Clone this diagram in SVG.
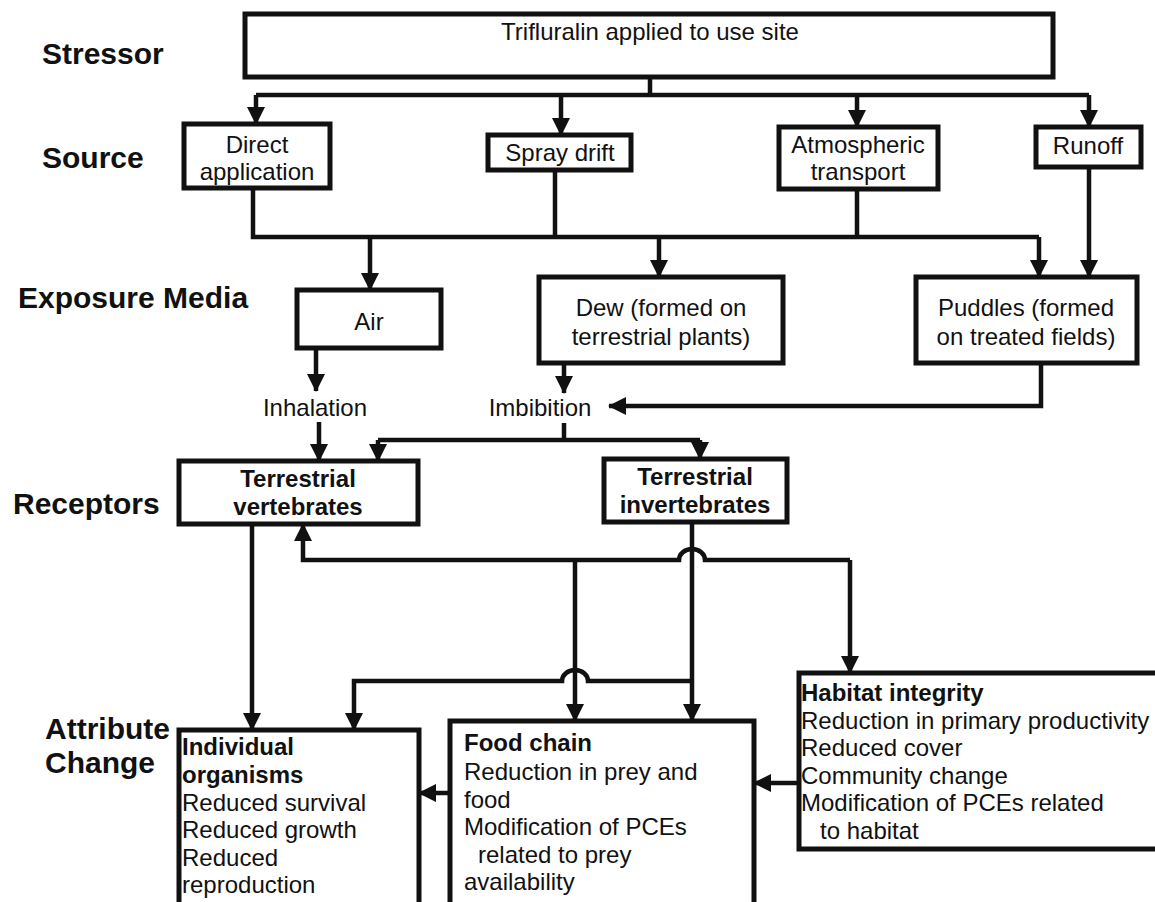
<svg xmlns="http://www.w3.org/2000/svg" width="1155" height="902" viewBox="0 0 1155 902">
<style>
.bg{fill:#fff}
.box{fill:#fff;stroke:#111;stroke-width:5}
.ln{fill:none;stroke:#111;stroke-width:4.5}
.arr{marker-end:url(#ah)}
.t{font-family:"Liberation Sans",Arial,sans-serif;font-size:24px;fill:#111}
.c{text-anchor:middle}
.b{font-weight:bold}
.lab{font-family:"Liberation Sans",Arial,sans-serif;font-size:30px;font-weight:bold;fill:#111}
</style>
<defs>
<marker id="ah" markerUnits="userSpaceOnUse" markerWidth="18" markerHeight="18" refX="17" refY="9" orient="auto">
<path d="M0,0 L18,9 L0,18 z" fill="#111"/>
</marker>
</defs>
<rect class="bg" x="0" y="0" width="1155" height="902"/>

<g id="labels">
<text class="lab" x="42" y="64">Stressor</text>
<text class="lab" x="42" y="168">Source</text>
<text class="lab" x="18" y="308">Exposure Media</text>
<text class="lab" x="13" y="514">Receptors</text>
<text class="lab" x="45" y="739">Attribute</text>
<text class="lab" x="45" y="773">Change</text>
</g>

<g id="connectors">
<path class="ln" d="M650,77 V95"/>
<path class="ln" d="M256,95 H1089"/>
<path class="ln arr" d="M256,95 V124"/>
<path class="ln arr" d="M561,95 V135"/>
<path class="ln arr" d="M857,95 V127"/>
<path class="ln arr" d="M1089,95 V127"/>
<path class="ln" d="M253,188 V237 H1039"/>
<path class="ln" d="M555,170 V237"/>
<path class="ln" d="M857,189 V237"/>
<path class="ln arr" d="M370,237 V290"/>
<path class="ln arr" d="M659,237 V277"/>
<path class="ln arr" d="M1039,237 V277"/>
<path class="ln arr" d="M1089,167 V277"/>
<path class="ln arr" d="M316,348 V391"/>
<path class="ln arr" d="M564,363 V393"/>
<path class="ln arr" d="M1041,363 V406 H609"/>
<path class="ln arr" d="M319,422 V461"/>
<path class="ln" d="M564,423 V440"/>
<path class="ln" d="M378,440 H700"/>
<path class="ln arr" d="M378,440 V461"/>
<path class="ln arr" d="M700,440 V459"/>
<path class="ln arr" d="M252,524 V730"/>
<path class="ln arr" d="M850,560 V673"/>
<path class="ln arr" d="M850,560 H705 A13,11 0 0 0 679,560 H303 V524"/>
<path class="ln arr" d="M575,560 V721"/>
<path class="ln arr" d="M692,522 V721"/>
<path class="ln arr" d="M692,681 H588 A13,11 0 0 0 562,681 H354 V730"/>
<path class="ln arr" d="M799,783 H754"/>
<path class="ln arr" d="M450,793 H419"/>
</g>

<g id="stressor">
<rect class="box" x="245" y="14" width="808" height="63"/>
<text class="t c" x="650" y="40">Trifluralin applied to use site</text>
</g>
<g id="direct-application">
<rect class="box" x="184" y="124" width="146" height="64"/>
<text class="t c" x="257" y="153">Direct</text>
<text class="t c" x="257" y="180">application</text>
</g>
<g id="spray-drift">
<rect class="box" x="488" y="135" width="143" height="35"/>
<text class="t c" x="560" y="161">Spray drift</text>
</g>
<g id="atmospheric-transport">
<rect class="box" x="779" y="127" width="159" height="62"/>
<text class="t c" x="858" y="153">Atmospheric</text>
<text class="t c" x="858" y="180">transport</text>
</g>
<g id="runoff">
<rect class="box" x="1036" y="127" width="105" height="40"/>
<text class="t c" x="1088" y="154">Runoff</text>
</g>
<g id="air">
<rect class="box" x="297" y="290" width="144" height="58"/>
<text class="t c" x="369" y="330">Air</text>
</g>
<g id="dew">
<rect class="box" x="539" y="277" width="244" height="86"/>
<text class="t c" x="661" y="316">Dew (formed on</text>
<text class="t c" x="661" y="345">terrestrial plants)</text>
</g>
<g id="puddles">
<rect class="box" x="916" y="277" width="221" height="86"/>
<text class="t c" x="1026" y="316">Puddles (formed</text>
<text class="t c" x="1026" y="345">on treated fields)</text>
</g>
<g id="inhalation">
<text class="t c" x="315" y="416">Inhalation</text>
</g>
<g id="imbibition">
<text class="t c" x="540" y="416">Imbibition</text>
</g>
<g id="terrestrial-vertebrates">
<rect class="box" x="179" y="461" width="239" height="63"/>
<text class="t c b" x="298" y="487">Terrestrial</text>
<text class="t c b" x="298" y="515">vertebrates</text>
</g>
<g id="terrestrial-invertebrates">
<rect class="box" x="604" y="459" width="183" height="63"/>
<text class="t c b" x="695" y="485">Terrestrial</text>
<text class="t c b" x="695" y="513">invertebrates</text>
</g>
<g id="individual-organisms">
<rect class="box" x="179" y="730" width="240" height="190"/>
<text class="t b" x="182" y="755">Individual</text>
<text class="t b" x="182" y="783">organisms</text>
<text class="t" x="182" y="811">Reduced survival</text>
<text class="t" x="182" y="838">Reduced growth</text>
<text class="t" x="182" y="866">Reduced</text>
<text class="t" x="182" y="893">reproduction</text>
</g>
<g id="food-chain">
<rect class="box" x="450" y="721" width="304" height="199"/>
<text class="t b" x="464" y="751">Food chain</text>
<text class="t" x="464" y="780">Reduction in prey and</text>
<text class="t" x="464" y="808">food</text>
<text class="t" x="464" y="835">Modification of PCEs</text>
<text class="t" x="478" y="863">related to prey</text>
<text class="t" x="464" y="890">availability</text>
</g>
<g id="habitat-integrity">
<rect class="box" x="799" y="673" width="370" height="176"/>
<text class="t b" x="801" y="701">Habitat integrity</text>
<text class="t" x="801" y="729">Reduction in primary productivity</text>
<text class="t" x="801" y="756">Reduced cover</text>
<text class="t" x="801" y="784">Community change</text>
<text class="t" x="801" y="811">Modification of PCEs related</text>
<text class="t" x="820" y="839">to habitat</text>
</g>
</svg>
